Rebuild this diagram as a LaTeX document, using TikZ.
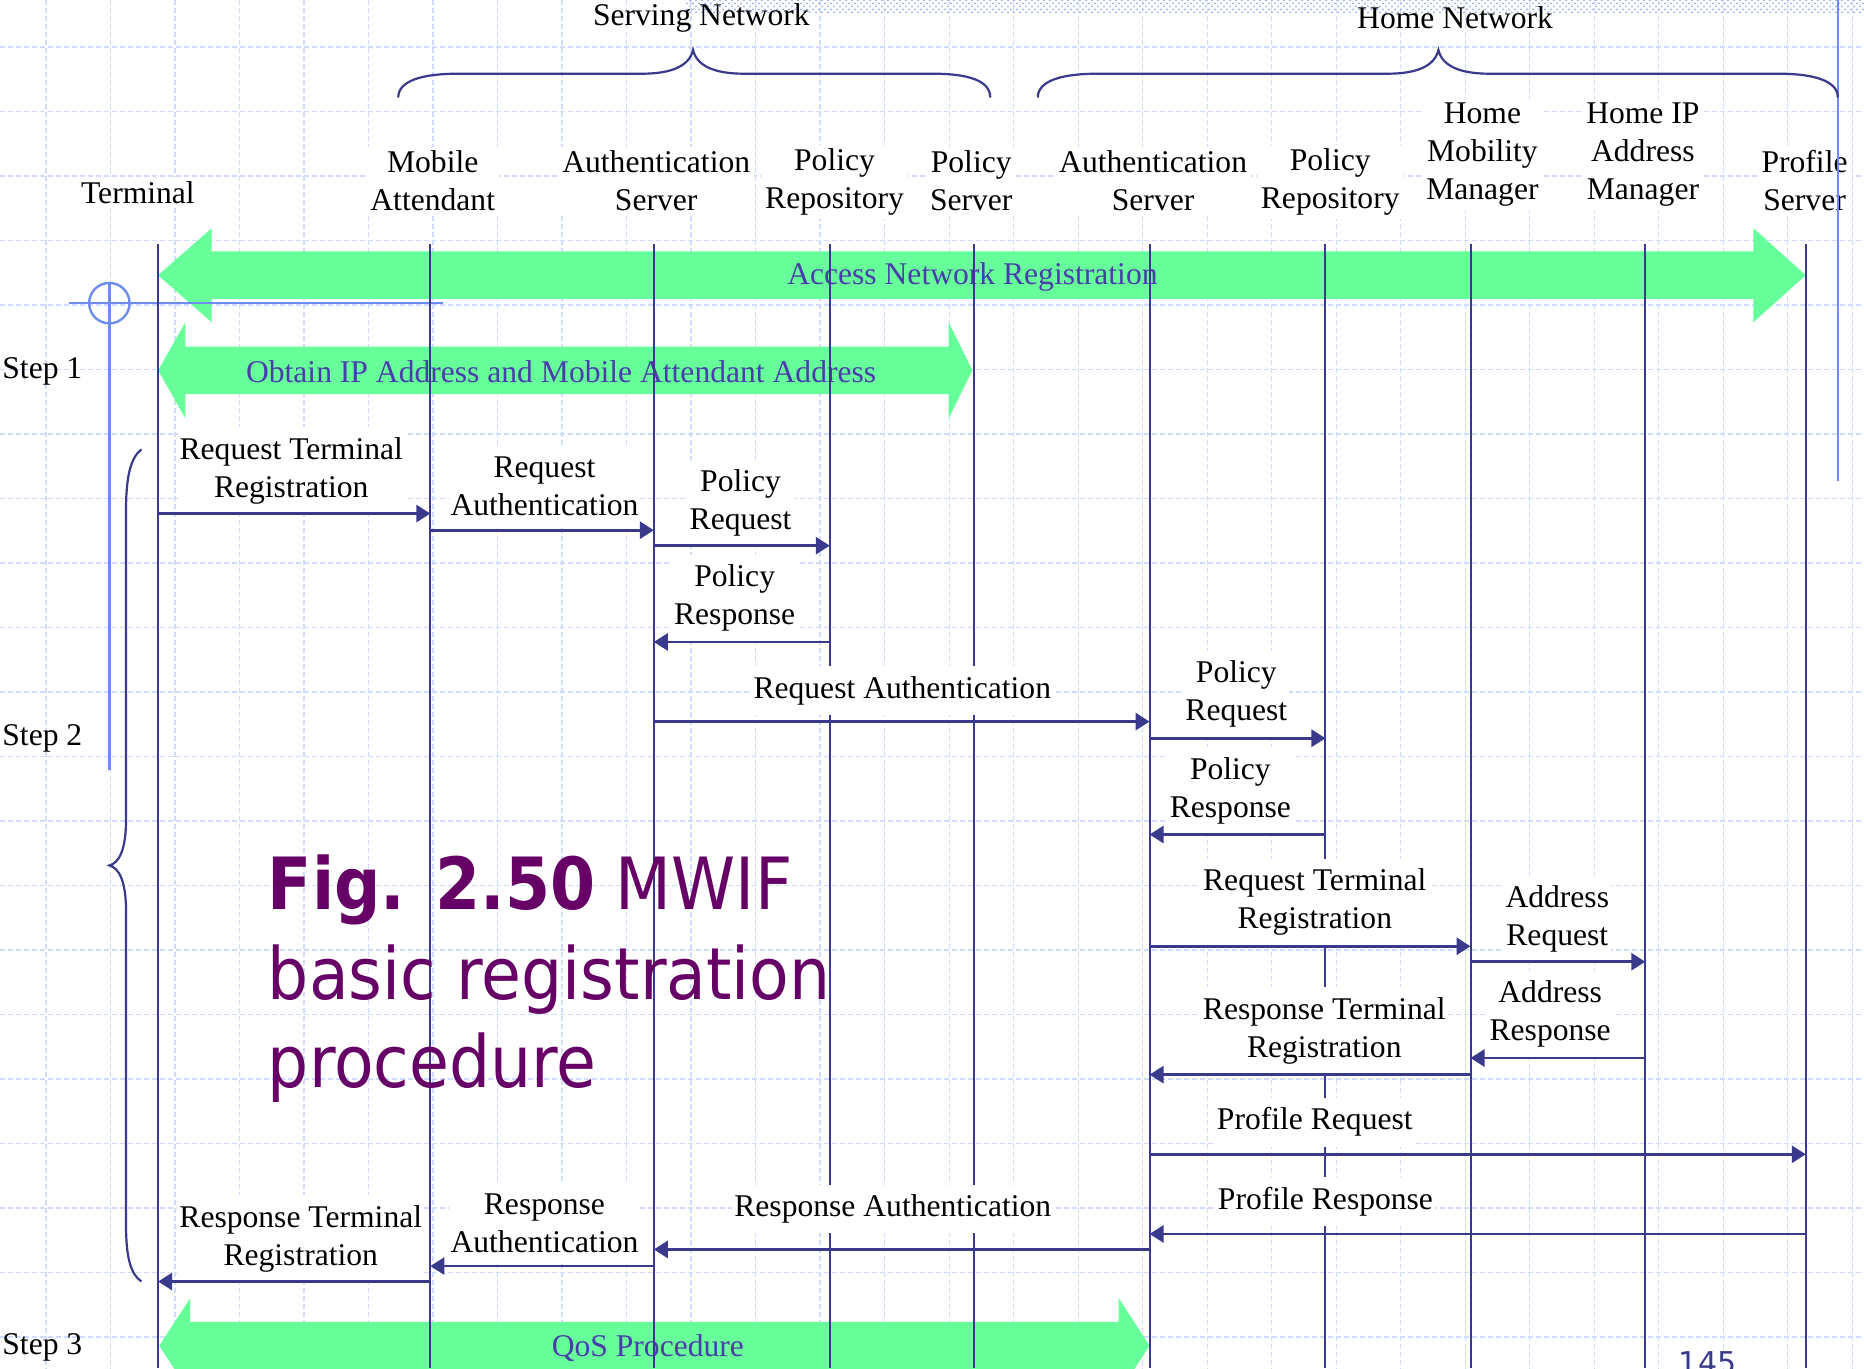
\documentclass[tikz,border=0pt]{standalone}
\usepackage{fontspec}
\setmainfont{Liberation Serif}
\newfontfamily\titlefont[FakeStretch=0.9]{DejaVu Sans}
\newfontfamily\pagefont{DejaVu Sans}
\usetikzlibrary{arrows.meta,patterns}
\definecolor{navy}{RGB}{58,58,140}
\definecolor{band}{RGB}{102,255,153}
\definecolor{bandtext}{RGB}{72,61,170}
\definecolor{gridblue}{RGB}{208,220,255}
\definecolor{crossblue}{RGB}{110,140,240}
\definecolor{titlepurple}{RGB}{102,0,102}
\begin{document}
\begin{tikzpicture}[x=0.5944pt,y=-0.5944pt,font=\fontsize{15.8}{19}\selectfont,
        life/.style={navy,line width=1pt},
        msg/.style={navy,line width=1.4pt,-{Triangle[length=7pt,width=8.5pt]}},
        lbl/.style={fill=white,align=center,inner xsep=1pt,inner ysep=5pt},
        hdr/.style={fill=white,align=center,inner sep=2pt},
        bandlbl/.style={text=bandtext,inner sep=0pt},
        brace/.style={navy,line width=1.1pt},
        deco/.style={crossblue,line width=1.2pt},
        gridline/.style={gridblue,line width=0.55pt,dash pattern=on 2.5pt off 1.5pt},
        title/.style={anchor=base west,inner sep=0pt,text=titlepurple,font=\titlefont\fontsize{36}{44}\selectfont}]
    \useasboundingbox (0,0) rectangle (1568,1151);
    \clip (0,0) rectangle (1568,1151);
    \fill[white] (0,0) rectangle (1568,1151);
    \foreach \i in {0,...,28} {
            \draw[gridline] (38.7+54.26*\i,0) -- (38.7+54.26*\i,1151);
        }
    \foreach \i in {0,...,20} {
            \draw[gridline] (0,39.5+54.26*\i) -- (1568,39.5+54.26*\i);
        }
    \fill[pattern=crosshatch dots,pattern color=crossblue!70] (576,0) rectangle (1568,11);
    \fill[band] (133,231.5) -- (178,192) -- (178,211.5) -- (1475,211.5) -- (1475,192) -- (1519,231.5)
        -- (1475,271) -- (1475,251.5) -- (178,251.5) -- (178,271) -- cycle;
    \fill[band] (133,311.5) -- (156,271) -- (156,291.5) -- (798,291.5) -- (798,271) -- (818,311.5)
        -- (798,352) -- (798,331.5) -- (156,331.5) -- (156,352) -- cycle;
    \fill[band] (134,1132) -- (160,1092) -- (160,1112) -- (941,1112) -- (941,1092) -- (967,1132)
        -- (941,1172) -- (941,1152) -- (160,1152) -- (160,1172) -- cycle;
    \node[bandlbl] (anr) at (818,233) {Access Network Registration};
    \node[bandlbl] (oip) at (472,313) {Obtain IP Address and Mobile Attendant Address};
    \node[bandlbl] (qos) at (545,1134) {QoS Procedure};
    \draw[deco] (58,255) -- (373,255);
    \draw[deco] (92,238) -- (92,648);
    \draw[deco] (92,255) circle[radius=17];
    \foreach \x [count=\i] in {133,362,550,698,819,967,1115,1237,1384,1519} {
            \coordinate (L\i) at (\x,205);
            \draw[life] (L\i) -- ++(0,946);
        }
    \node (sn) at (590,15) {Serving Network};
    \node (hn) at (1224,15) {Home Network};
    \node[hdr] (term) at (116,162) {Terminal};
    \node[hdr] (ma) at (364,152) {Mobile\\Attendant};
    \node[hdr] (sas) at (552,152) {Authentication\\Server};
    \node[hdr] (spr) at (702,153) {Policy\\Repository};
    \node[hdr] (sps) at (817,152) {Policy\\Server};
    \node[hdr] (has) at (970,152) {Authentication\\Server};
    \node[hdr] (hpr) at (1119,153) {Policy\\Repository};
    \node[hdr] (hmm) at (1247,130) {Home\\Mobility\\Manager};
    \node[hdr] (hip) at (1382,130) {Home IP\\Address\\Manager};
    \node[hdr] (ps) at (1518,152) {Profile\\Server};
    \draw[deco] (1546,0) -- (1546,405);
    \draw[brace] (335,82) .. controls (335,68) and (355,62) .. (385,62) -- (540,62)
        .. controls (566,62) and (580,55) .. (583,42) .. controls (586,55) and (600,62) .. (626,62)
        -- (785,62) .. controls (815,62) and (833,68) .. (833,82);
    \draw[brace] (873,82) .. controls (873,68) and (893,62) .. (923,62) -- (1167,62)
        .. controls (1193,62) and (1207,55) .. (1210,42) .. controls (1213,55) and (1227,62) .. (1253,62)
        -- (1496,62) .. controls (1526,62) and (1546,68) .. (1546,82);
    \draw[brace] (119,378) .. controls (110,385) and (106,400) .. (106,430) -- (106,690)
        .. controls (106,715) and (100,726) .. (92,728) .. controls (100,730) and (106,741) .. (106,766)
        -- (106,1030) .. controls (106,1058) and (110,1072) .. (119,1078);
    \node[anchor=west,inner sep=1pt] (step1) at (0,312) {Step 1};
    \node[anchor=west,inner sep=1pt] (step2) at (0,621) {Step 2};
    \node[anchor=west,inner sep=1pt] (step3) at (0,1133) {Step 3};
    \foreach \x/\y/\t [count=\n] in {245/396/{Request Terminal\\Registration},
            458/409/{Request\\Authentication},
            623/423/{Policy\\Request},
            618/503/{Policy\\Response},
            759/581/{Request Authentication},
            1040/584/{Policy\\Request},
            1035/665/{Policy\\Response},
            1106/759/{Request Terminal\\Registration},
            1310/773/{Address\\Request},
            1304/853/{Address\\Response},
            1114/867/{Response Terminal\\Registration},
            1106/944/{Profile Request},
            1115/1011/{Profile Response},
            751/1017/{Response Authentication},
            458/1029/{Response\\Authentication},
            253/1042/{Response Terminal\\Registration}} {
            \node[lbl] (lab\n) at (\x,\y) {\t};
        }
    \foreach \a/\b/\y [count=\n] in {1/2/432,2/3/446,3/4/459,4/3/540,3/6/607,6/7/621,7/6/702,6/8/796,
            8/9/809,9/8/890,8/6/904,6/10/971,10/6/1038,6/3/1051,3/2/1065,2/1/1078} {
            \coordinate (m\n) at (0,\y);
            \draw[msg] (L\a |- m\n) -- (L\b |- m\n);
        }
    \node[title] (fig1) at (225,765) {\textbf{Fig. 2.50} MWIF};
    \node[title] (fig2) at (225,841) {basic registration};
    \node[title] (fig3) at (225,915) {procedure};
    \node[anchor=base west,inner sep=0pt,text=navy,font=\pagefont\fontsize{15}{18}\selectfont] (pg) at (1412,1155) {145};
\end{tikzpicture}
\end{document}
